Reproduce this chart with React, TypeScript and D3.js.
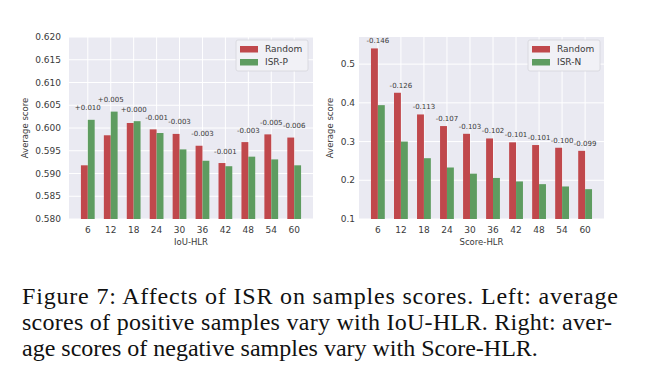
import { useEffect, useRef } from "react";
import * as d3 from "d3";

const categories = ["6", "12", "18", "24", "30", "36", "42", "48", "54", "60"];

// left panel: positive samples vs IoU-HLR
const leftRandom = [0.5918, 0.5984, 0.6011, 0.5997, 0.5987, 0.5961, 0.5923, 0.5969, 0.5986, 0.5979];
const leftIsrP = [0.6018, 0.6036, 0.6015, 0.5989, 0.5953, 0.5928, 0.5916, 0.5937, 0.5931, 0.5918];
const leftDiffs = ["+0.010", "+0.005", "+0.000", "-0.001", "-0.003", "-0.003", "-0.001", "-0.003", "-0.005", "-0.006"];
const leftTicks = [0.58, 0.585, 0.59, 0.595, 0.6, 0.605, 0.61, 0.615, 0.62];

// right panel: negative samples vs Score-HLR
const rightRandom = [0.5405, 0.426, 0.37, 0.34, 0.32, 0.308, 0.298, 0.291, 0.284, 0.276];
const rightIsrN = [0.394, 0.3, 0.257, 0.233, 0.217, 0.206, 0.197, 0.19, 0.184, 0.177];
const rightDiffs = ["-0.146", "-0.126", "-0.113", "-0.107", "-0.103", "-0.102", "-0.101", "-0.101", "-0.100", "-0.099"];
const rightTicks = [0.1, 0.2, 0.3, 0.4, 0.5];

// caption, justified lines get a fixed width
const captionLines = [
  "Figure 7: Affects of ISR on samples scores. Left: average",
  "scores of positive samples vary with IoU-HLR. Right: aver-",
  "age scores of negative samples vary with Score-HLR.",
];
const captionWidths = [596, 590, null];

const RED = "#c0484c";
const GREEN = "#5e9c60";
const BG = "#eaeaf2";
const TXT = "#3a3a3a";
const FONT = "'DejaVu Sans', sans-serif";

type PanelProps = {
  left: number;
  right: number;
  top: number;
  bottom: number;
  domain: [number, number];
  ticks: number[];
  tickFmt: string;
  tickPad: number;
  random: number[];
  other: number[];
  diffs: string[];
  diffGap: number;
  xLabel: string;
  yLabelX: number;
  legendName: string;
  legendX: number;
};

const Panel = (p: PanelProps) => {
  const gRef = useRef<SVGGElement>(null);

  useEffect(() => {
    const g = d3.select(gRef.current);
    g.selectAll("*").remove();

    const x = d3.scaleBand().domain(categories).range([p.left, p.right]).paddingInner(0).paddingOuter(0.32);
    const y = d3.scaleLinear().domain(p.domain).range([p.bottom, p.top]);
    const bw = x.step() * 0.3;

    g.append("rect")
      .attr("x", p.left)
      .attr("y", p.top)
      .attr("width", p.right - p.left)
      .attr("height", p.bottom - p.top)
      .attr("fill", BG);

    // grid
    g.selectAll(".hgrid")
      .data(p.ticks)
      .enter()
      .append("line")
      .attr("x1", p.left)
      .attr("x2", p.right)
      .attr("y1", (d) => y(d))
      .attr("y2", (d) => y(d))
      .attr("stroke", "#fff")
      .attr("stroke-width", 1);

    g.selectAll(".vgrid")
      .data(categories)
      .enter()
      .append("line")
      .attr("x1", (d) => x(d)! + x.bandwidth() / 2)
      .attr("x2", (d) => x(d)! + x.bandwidth() / 2)
      .attr("y1", p.top)
      .attr("y2", p.bottom)
      .attr("stroke", "#fff")
      .attr("stroke-width", 1);

    // bars
    const cx = (i: number) => x(categories[i])! + x.bandwidth() / 2;
    g.selectAll(".rbar")
      .data(p.random)
      .enter()
      .append("rect")
      .attr("x", (_, i) => cx(i) - bw)
      .attr("y", (d) => y(d))
      .attr("width", bw)
      .attr("height", (d) => p.bottom - y(d))
      .attr("fill", RED);

    g.selectAll(".obar")
      .data(p.other)
      .enter()
      .append("rect")
      .attr("x", (_, i) => cx(i))
      .attr("y", (d) => y(d))
      .attr("width", bw)
      .attr("height", (d) => p.bottom - y(d))
      .attr("fill", GREEN);

    // difference labels
    g.selectAll(".diff")
      .data(p.diffs)
      .enter()
      .append("text")
      .attr("x", (_, i) => cx(i))
      .attr("y", (_, i) => y(Math.max(p.random[i], p.other[i])) - p.diffGap)
      .attr("text-anchor", "middle")
      .style("font-family", FONT)
      .style("font-size", "7px")
      .style("fill", TXT)
      .text((d) => d);

    // y tick labels
    const fmt = d3.format(p.tickFmt);
    g.selectAll(".ytick")
      .data(p.ticks)
      .enter()
      .append("text")
      .attr("x", p.left - p.tickPad)
      .attr("y", (d) => y(d))
      .attr("dy", "0.35em")
      .attr("text-anchor", "end")
      .style("font-family", FONT)
      .style("font-size", "9px")
      .style("fill", TXT)
      .text((d) => fmt(d));

    // x tick labels
    g.selectAll(".xtick")
      .data(categories)
      .enter()
      .append("text")
      .attr("x", (d) => x(d)! + x.bandwidth() / 2)
      .attr("y", p.bottom + 14)
      .attr("text-anchor", "middle")
      .style("font-family", FONT)
      .style("font-size", "9px")
      .style("fill", TXT)
      .text((d) => d);

    g.append("text")
      .attr("x", (p.left + p.right) / 2)
      .attr("y", p.bottom + 26)
      .attr("text-anchor", "middle")
      .style("font-family", FONT)
      .style("font-size", "8.5px")
      .style("fill", TXT)
      .text(p.xLabel);

    g.append("text")
      .attr("transform", `translate(${p.yLabelX},${(p.top + p.bottom) / 2}) rotate(-90)`)
      .attr("dy", "0.35em")
      .attr("text-anchor", "middle")
      .style("font-family", FONT)
      .style("font-size", "8.5px")
      .style("fill", TXT)
      .text("Average score");

    // legend
    const lg = g.append("g").attr("transform", `translate(${p.legendX},${p.top + 3})`);
    lg.append("rect")
      .attr("width", 72)
      .attr("height", 31)
      .attr("rx", 2)
      .attr("fill", "#f1f1f6")
      .attr("stroke", "#d6d6dc")
      .attr("stroke-width", 0.8);
    const items = [
      { name: "Random", color: RED },
      { name: p.legendName, color: GREEN },
    ];
    const li = lg.selectAll(".li")
      .data(items)
      .enter()
      .append("g")
      .attr("transform", (_, i) => `translate(4,${9 + i * 13})`);
    li.append("rect")
      .attr("x", 0)
      .attr("y", -3)
      .attr("width", 18)
      .attr("height", 6.5)
      .attr("fill", (d) => d.color);
    li.append("text")
      .attr("x", 25)
      .attr("y", 0)
      .attr("dy", "0.35em")
      .style("font-family", FONT)
      .style("font-size", "9px")
      .style("fill", TXT)
      .text((d) => d.name);
  }, [p]);

  return <g ref={gRef}></g>;
};

export default function App() {
  return (
    <svg
      width={650}
      height={373}
      style={{ position: "absolute", left: 0, top: 0, background: "#fff" }}
    >
      <Panel
        left={69}
        right={313}
        top={37}
        bottom={219}
        domain={[0.58, 0.62]}
        ticks={leftTicks}
        tickFmt=".3f"
        tickPad={8}
        random={leftRandom}
        other={leftIsrP}
        diffs={leftDiffs}
        diffGap={9.5}
        xLabel="IoU-HLR"
        yLabelX={25}
        legendName="ISR-P"
        legendX={236}
      />
      <Panel
        left={359}
        right={604}
        top={37}
        bottom={219}
        domain={[0.1, 0.57]}
        ticks={rightTicks}
        tickFmt=".1f"
        tickPad={4}
        random={rightRandom}
        other={rightIsrN}
        diffs={rightDiffs}
        diffGap={5}
        xLabel="Score-HLR"
        yLabelX={330}
        legendName="ISR-N"
        legendX={528}
      />
      {captionLines.map((t, i) => (
        <text
          key={i}
          x={22}
          y={304 + i * 26}
          textLength={captionWidths[i] ?? undefined}
          lengthAdjust="spacing"
          style={{ fontFamily: "'Liberation Serif', serif", fontSize: "24px", fill: "#111" }}
        >
          {t}
        </text>
      ))}
    </svg>
  );
}
